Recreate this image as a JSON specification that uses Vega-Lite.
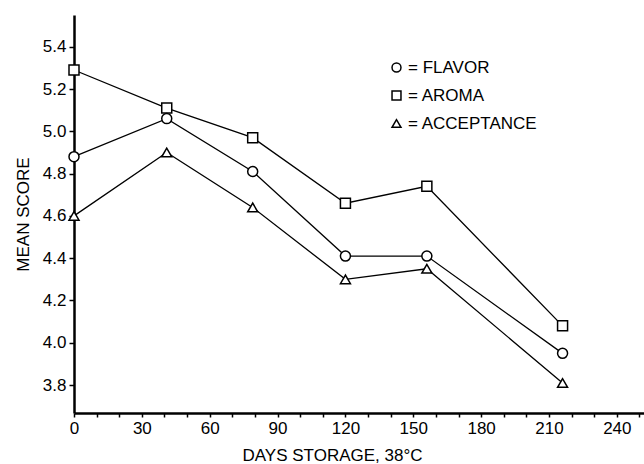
{
  "$schema": "https://vega.github.io/schema/vega-lite/v6.json",
  "width": 570,
  "height": 398,
  "autosize": {"type": "none"},
  "padding": {"left": 74, "top": 15, "right": 0, "bottom": 51},
  "background": "white",
  "config": {
    "view": {"stroke": null},
    "font": "Liberation Sans",
    "axis": {
      "grid": false,
      "domainColor": "black",
      "domainWidth": 2.5,
      "tickColor": "black",
      "tickWidth": 1.5,
      "labelColor": "black",
      "labelFontSize": 17,
      "titleColor": "black",
      "titleFontSize": 17,
      "titleFontWeight": "normal",
      "labelFont": "Liberation Sans",
      "titleFont": "Liberation Sans"
    }
  },
  "data": {
    "values": [
      {"series": "AROMA", "days": 0, "score": 5.29},
      {"series": "AROMA", "days": 41, "score": 5.11},
      {"series": "AROMA", "days": 79, "score": 4.97},
      {"series": "AROMA", "days": 120, "score": 4.66},
      {"series": "AROMA", "days": 156, "score": 4.74},
      {"series": "AROMA", "days": 216, "score": 4.08},
      {"series": "FLAVOR", "days": 0, "score": 4.88},
      {"series": "FLAVOR", "days": 41, "score": 5.06},
      {"series": "FLAVOR", "days": 79, "score": 4.81},
      {"series": "FLAVOR", "days": 120, "score": 4.41},
      {"series": "FLAVOR", "days": 156, "score": 4.41},
      {"series": "FLAVOR", "days": 216, "score": 3.95},
      {"series": "ACCEPTANCE", "days": 0, "score": 4.6},
      {"series": "ACCEPTANCE", "days": 41, "score": 4.9},
      {"series": "ACCEPTANCE", "days": 79, "score": 4.64},
      {"series": "ACCEPTANCE", "days": 120, "score": 4.3},
      {"series": "ACCEPTANCE", "days": 156, "score": 4.35},
      {"series": "ACCEPTANCE", "days": 216, "score": 3.81}
    ]
  },
  "encoding": {
    "x": {
      "field": "days",
      "type": "quantitative",
      "scale": {"domain": [0, 252], "nice": false, "zero": false},
      "axis": {
        "values": [0, 10, 20, 30, 40, 50, 60, 70, 80, 90, 100, 110, 120, 130, 140, 150, 160, 170, 180, 190, 200, 210, 220, 230, 240, 250],
        "labelExpr": "datum.value % 30 == 0 ? datum.label : ''",
        "tickSize": 4,
        "labelPadding": 3,
        "labelFlush": false,
        "labelOverlap": false,
        "title": "DAYS  STORAGE,  38°C",
        "titlePadding": 11,
        "titleX": 258
      }
    },
    "y": {
      "field": "score",
      "type": "quantitative",
      "scale": {"domain": [3.668, 5.55], "nice": false, "zero": false},
      "axis": {
        "values": [3.8, 4.0, 4.2, 4.4, 4.6, 4.8, 5.0, 5.2, 5.4],
        "format": ".1f",
        "tickSize": 5,
        "labelPadding": 3,
        "labelFlush": false,
        "title": "MEAN  SCORE",
        "titlePadding": 10
      }
    }
  },
  "layer": [
    {
      "mark": {"type": "line", "color": "black", "strokeWidth": 1.3},
      "encoding": {"detail": {"field": "series", "type": "nominal"}}
    },
    {
      "mark": {"type": "point", "filled": true, "fill": "white", "stroke": "black", "strokeWidth": 1.5, "size": 100, "opacity": 1},
      "encoding": {
        "shape": {
          "field": "series",
          "type": "nominal",
          "scale": {"domain": ["FLAVOR", "AROMA", "ACCEPTANCE"], "range": ["circle", "square", "triangle-up"]},
          "legend": {
            "title": null,
            "orient": "none",
            "legendX": 314,
            "legendY": 44,
            "padding": 0,
            "labelExpr": "'= ' + datum.label",
            "labelFontSize": 17,
            "labelColor": "black",
            "labelFont": "Liberation Sans",
            "labelOffset": 3,
            "symbolSize": 80,
            "rowPadding": 10,
            "encode": {
              "symbols": {
                "update": {
                  "fill": {"value": "white"},
                  "stroke": {"value": "black"},
                  "strokeWidth": {"value": 1.5},
                  "opacity": {"value": 1}
                }
              }
            }
          }
        }
      }
    }
  ]
}
